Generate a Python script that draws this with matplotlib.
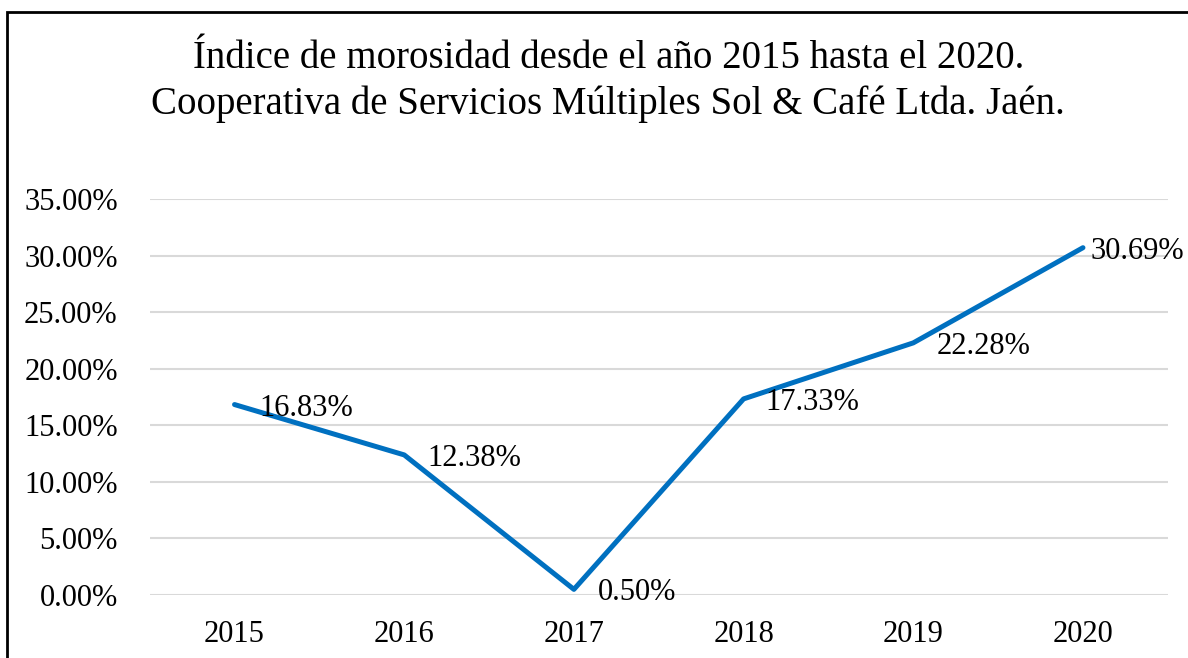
import matplotlib.pyplot as plt
from matplotlib.ticker import FuncFormatter
from matplotlib.patches import Rectangle

years = ["2015", "2016", "2017", "2018", "2019", "2020"]
morosidad = [16.83, 12.38, 0.50, 17.33, 22.28, 30.69]
yticks = [0, 5, 10, 15, 20, 25, 30, 35]

plt.rcParams['font.family'] = ['Liberation Serif', 'DejaVu Serif']

fig = plt.figure(figsize=(11.88, 6.58), dpi=100)
ax = fig.add_axes([0.126, 0.0957, 0.857, 0.602])

x = range(len(years))
ax.plot(x, morosidad, color="#0070C0", linewidth=3.6, solid_joinstyle="round",
        solid_capstyle="round", zorder=3)

# etiquetas de datos a la derecha de cada punto
dx = [18, 16.5, 17, 16, 16.5, 5.5]
for i, v in enumerate(morosidad):
    ax.annotate("%.2f%%" % v, (i, v), xytext=(dx[i], -2.5), textcoords="offset points",
                ha="left", va="center", fontsize=22, color="black")

ax.set_xlim(-0.5, len(years) - 0.5)
ax.set_ylim(0, 35)
ax.set_yticks(yticks)
ax.yaxis.set_major_formatter(FuncFormatter(lambda v, p: "%.2f%%" % v))
ax.set_xticks(list(x))
ax.set_xticklabels(years)
ax.grid(axis="y", color="#D9D9D9", linewidth=1.5)
ax.set_axisbelow(True)
for s in ax.spines.values():
    s.set_visible(False)
ax.tick_params(length=0, labelsize=22)
ax.tick_params(axis="x", pad=18)
ax.tick_params(axis="y", pad=23)

fig.text(0.512, 0.876, "Índice de morosidad desde el año 2015 hasta el 2020.\n"
         "Cooperativa de Servicios Múltiples Sol & Café Ltda. Jaén.",
         ha="center", va="center", fontsize=28, linespacing=1.3)

# marco (solo arriba e izquierda visibles)
fig.patches.append(Rectangle((7 / 1188, -0.1), 1.2, 1.1 - 12 / 658, transform=fig.transFigure,
                             fill=False, edgecolor="black", linewidth=2))

fig.savefig("out.png", dpi=100)
